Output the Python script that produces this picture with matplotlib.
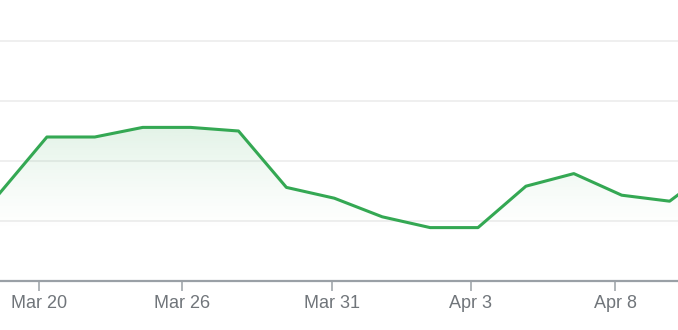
import numpy as np
import matplotlib.pyplot as plt
from matplotlib.patches import Polygon

# data (one point per category, y in gridline units)
values = [1.45, 2.40, 2.40, 2.56, 2.56, 2.50, 1.56, 1.38, 1.07, 0.89, 0.89,
          1.58, 1.79, 1.43, 1.33, 1.93]
tick_pos = [0.835, 3.82, 6.95, 9.85, 12.86]
tick_labels = ["Mar 20", "Mar 26", "Mar 31", "Apr 3", "Apr 8"]

green = "#34a853"
x = np.arange(len(values))
y = np.array(values)

fig = plt.figure(figsize=(6.78, 3.30), dpi=100)
ax = fig.add_axes([0, 49 / 330, 1, 281 / 330])

ax.set_xlim(0.021, 14.175)
ax.set_ylim(0, 281 / 60)

# gradient fill under the line
ymax = y.max()
grad = np.linspace(0, 1, 256).reshape(-1, 1)
rgba = np.zeros((256, 1, 4))
rgba[..., :3] = np.array([52, 168, 83]) / 255
rgba[..., 3] = (np.clip((grad - 0.8 / ymax) / (1 - 0.8 / ymax), 0, 1) ** 1.3) * 0.14
im = ax.imshow(rgba, aspect="auto", origin="lower",
               extent=[x[0], x[-1], 0, ymax], zorder=1)
poly = Polygon(np.column_stack([np.r_[x, x[-1], x[0]], np.r_[y, 0, 0]]),
               closed=True, transform=ax.transData)
im.set_clip_path(poly)

ax.plot(x, y, color=green, lw=2.2, zorder=3, solid_joinstyle="round")

# gridlines
for g in [1, 2, 3, 4]:
    ax.axhline(g, color="#ececec", lw=1.2, zorder=0)

for s in ["top", "right", "left"]:
    ax.spines[s].set_visible(False)
ax.spines["bottom"].set_color("#9aa0a6")
ax.spines["bottom"].set_linewidth(1.6)

ax.set_yticks([])
ax.set_xticks(tick_pos)
ax.set_xticklabels(tick_labels, fontsize=13, color="#70757a",
                   family=["Liberation Sans", "DejaVu Sans"])
ax.tick_params(axis="x", length=7, width=1.1, color="#9aa0a6", pad=3)

fig.savefig("out.png", dpi=100)
